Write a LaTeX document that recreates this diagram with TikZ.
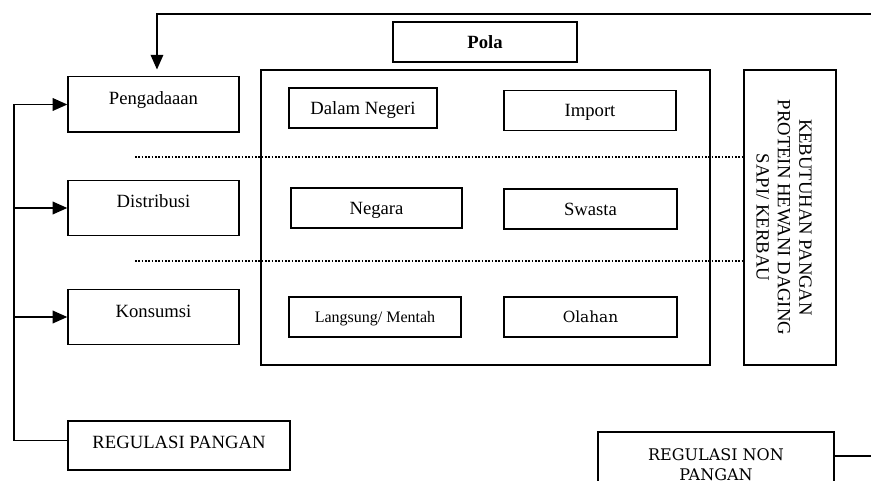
\documentclass[tikz,border=0pt]{standalone}
\usepackage{fontspec}
\setmainfont{Liberation Serif}
\newfontfamily\dvserif{DejaVu Serif}
\usetikzlibrary{arrows.meta,positioning,calc}
\tikzset{
  box/.style={draw, line width=1pt, inner sep=0pt, font=\fontsize{14}{16}\selectfont},
  sidebox/.style={box, minimum width=128.25pt, minimum height=41.5pt, text height=10pt, text depth=10pt},
  polabox/.style={box, minimum height=30pt, text height=11.5pt, text depth=2.2pt},
  arr/.style={line width=1pt, -{Triangle[length=11pt,width=9.5pt]}},
  dots/.style={line width=0.9pt, dash pattern=on 1.2pt off 1.3pt},
  wire/.style={line width=1pt},
}

\begin{document}
\begin{tikzpicture}[x=0.75pt, y=-0.75pt]
  \useasboundingbox (0,0) rectangle (871,481);
  \clip (0,0) rectangle (871,481);

  % left column
  \node[sidebox] (peng) at (153.5,104.5) {Pengadaaan};
  \node[sidebox] (dist) at (153.5,208) {Distribusi};
  \node[sidebox] (kons) at (153.5,317) {Konsumsi};
  \node[box, minimum width=166.5pt, minimum height=36.75pt, text height=9.3pt, text depth=5pt] (regp) at (179,445.5) {REGULASI PANGAN};

  % pola
  \node[box, minimum width=138pt, minimum height=30pt, font=\fontsize{14}{16}\selectfont\bfseries] (pola) at (485,42) {Pola};
  \node[box, minimum width=336.75pt, minimum height=221.25pt] (main) at (485.5,217.5) {};
  \node[polabox, minimum width=111pt] (dalam) at (363,108) {Dalam Negeri};
  \node[polabox, minimum width=129pt] (import) at (590,110.5) {Import};
  \node[polabox, minimum width=128.25pt] (negara) at (376.5,208) {Negara};
  \node[polabox, minimum width=129.75pt] (swasta) at (590.5,209) {Swasta};
  \node[polabox, minimum width=129pt, font=\fontsize{12}{14}\selectfont, text height=10.2pt, text depth=2pt] (langsung) at (375,317) {Langsung/ Mentah};
  \node[polabox, minimum width=129.75pt, font=\fontsize{11.5}{14}\selectfont\dvserif, text height=10.4pt, text depth=2pt] (olahan) at (590.5,317) {Olahan};

  % kebutuhan
  \node[box, minimum width=69pt, minimum height=221.25pt] (kebut) at (790,217.5) {};
  \node[rotate=-90, align=center, inner sep=0pt, font=\fontsize{14}{16}\selectfont] (kebutxt) at (784,217.5)
    {KEBUTUHAN PANGAN\\PROTEIN HEWANI DAGING\\SAPI/ KERBAU};

  \node[box, align=center, minimum width=177pt, minimum height=49.5pt,
        font=\fontsize{12}{15}\selectfont\dvserif] (regnp) at (716,465) {REGULASI NON\\PANGAN};

  % dotted separators
  \coordinate (d1) at (135,157);
  \coordinate (d2) at (135,261);
  \draw[dots] (d1) -- (d1 -| kebut.west);
  \draw[dots] (d2) -- (d2 -| kebut.west);

  % feedback lines
  \coordinate (topr) at (872,14);
  \draw[arr, shorten >=5pt] (topr) -| ([xshift=2.6pt]peng.north);
  \coordinate (botr) at (872,456);
  \coordinate (npout) at ([yshift=6.75pt]regnp.east);
  \draw[wire] (npout) -- (npout -| botr);

  \coordinate (spine) at (14,0);
  \draw[wire] ([yshift=4pt]regp.west) -| (spine |- peng.west);
  \foreach \n in {peng,dist,kons}
    \draw[arr] (spine |- \n.west) -- (\n.west);
\end{tikzpicture}
\end{document}
